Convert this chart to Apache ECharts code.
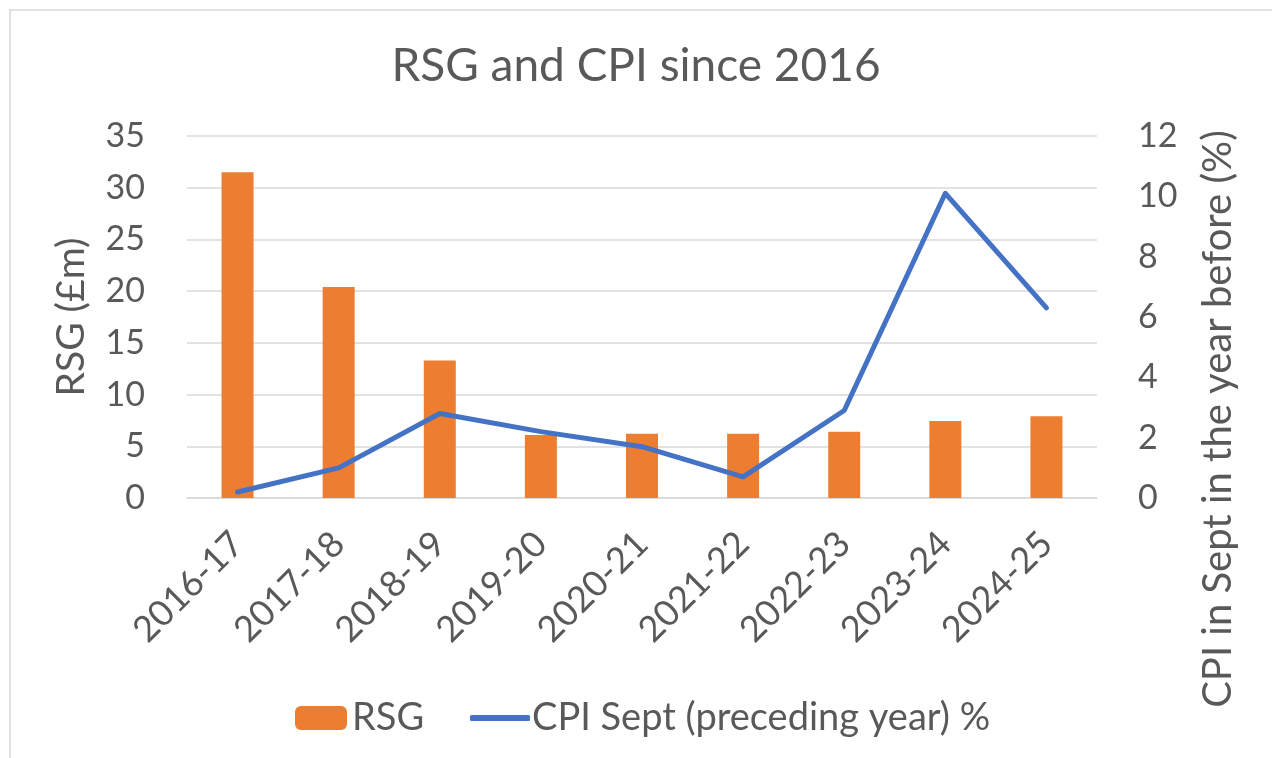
<!DOCTYPE html>
<html lang="en">
<head>
    <meta charset="UTF-8">
    <title>RSG and CPI</title>
    <script src="https://cdn.jsdelivr.net/npm/echarts@6/dist/echarts.min.js"></script>
    <style>
        body { margin: 0; background: #fff; }
    </style>
</head>
<body>
<div id="chart" style="width: 1272px;height:758px;"></div>
<script>
    let years = ['2016-17', '2017-18', '2018-19', '2019-20', '2020-21', '2021-22', '2022-23', '2023-24', '2024-25'];
    let rsg = [31.5, 20.4, 13.3, 6.1, 6.2, 6.2, 6.4, 7.45, 7.9];
    let cpi = [0.2, 1.0, 2.8, 2.2, 1.7, 0.7, 2.9, 10.1, 6.3];

    let font = 'Lato';
    let grey = '#595959';

    let chart = echarts.init(document.getElementById('chart'));

    let option = {
        backgroundColor: '#fff',
        textStyle: { fontFamily: font },
        title: {
            text: 'RSG and CPI since 2016',
            left: 'center',
            top: 38,
            padding: [5, 0, 5, 16],
            textStyle: { fontFamily: font, fontSize: 46, fontWeight: 'normal', color: grey }
        },
        // chart area outline + right axis title
        graphic: [{
            type: 'rect',
            shape: { x: 10, y: 10, width: 1300, height: 800 },
            style: { fill: 'none', stroke: '#d9d9d9', lineWidth: 1.5 },
            silent: true
        }, {
            type: 'text',
            x: 1218,
            y: 419,
            rotation: Math.PI / 2,
            style: {
                text: 'CPI in Sept in the year before (%)',
                fontFamily: font,
                fontSize: 40,
                fill: grey,
                align: 'center',
                verticalAlign: 'middle'
            }
        }],
        legend: [{
            left: 290,
            top: 694,
            itemWidth: 52,
            itemHeight: 24,
            itemGap: 8,
            textStyle: { fontFamily: font, fontSize: 38, color: grey },
            data: ['RSG']
        }, {
            left: 465,
            top: 694,
            itemWidth: 60,
            itemHeight: 6,
            icon: 'roundRect',
            textStyle: { fontFamily: font, fontSize: 38, color: grey, padding: [0, 0, 0, -3] },
            data: ['CPI Sept (preceding year) %']
        }],
        grid: { left: 187, right: 175, top: 136, bottom: 260 },
        xAxis: {
            type: 'category',
            data: years,
            axisLine: { lineStyle: { color: '#d9d9d9', width: 1.5 } },
            axisTick: { show: false },
            axisLabel: { rotate: 45, fontSize: 36, color: grey, margin: 40, interval: 0 }
        },
        yAxis: [{
            type: 'value',
            min: 0,
            max: 35,
            interval: 5,
            name: 'RSG (£m)',
            nameLocation: 'middle',
            nameGap: 96,
            nameTextStyle: { fontFamily: font, fontSize: 39, color: grey },
            axisLabel: { fontSize: 34, color: grey, margin: 42 },
            splitLine: { lineStyle: { color: '#d9d9d9', width: 1.5 } }
        }, {
            type: 'value',
            min: 0,
            max: 12,
            interval: 2,
            position: 'right',
            axisLabel: { fontSize: 34, color: grey, margin: 41 },
            splitLine: { show: false }
        }],
        series: [{
            name: 'RSG',
            type: 'bar',
            data: rsg,
            barWidth: 32,
            itemStyle: { color: '#ED7D31' }
        }, {
            name: 'CPI Sept (preceding year) %',
            type: 'line',
            yAxisIndex: 1,
            data: cpi,
            symbol: 'none',
            lineStyle: { color: '#4472C4', width: 5, cap: 'round', join: 'round' },
            itemStyle: { color: '#4472C4' }
        }]
    };

    chart.setOption(option);
</script>
</body>
</html>
